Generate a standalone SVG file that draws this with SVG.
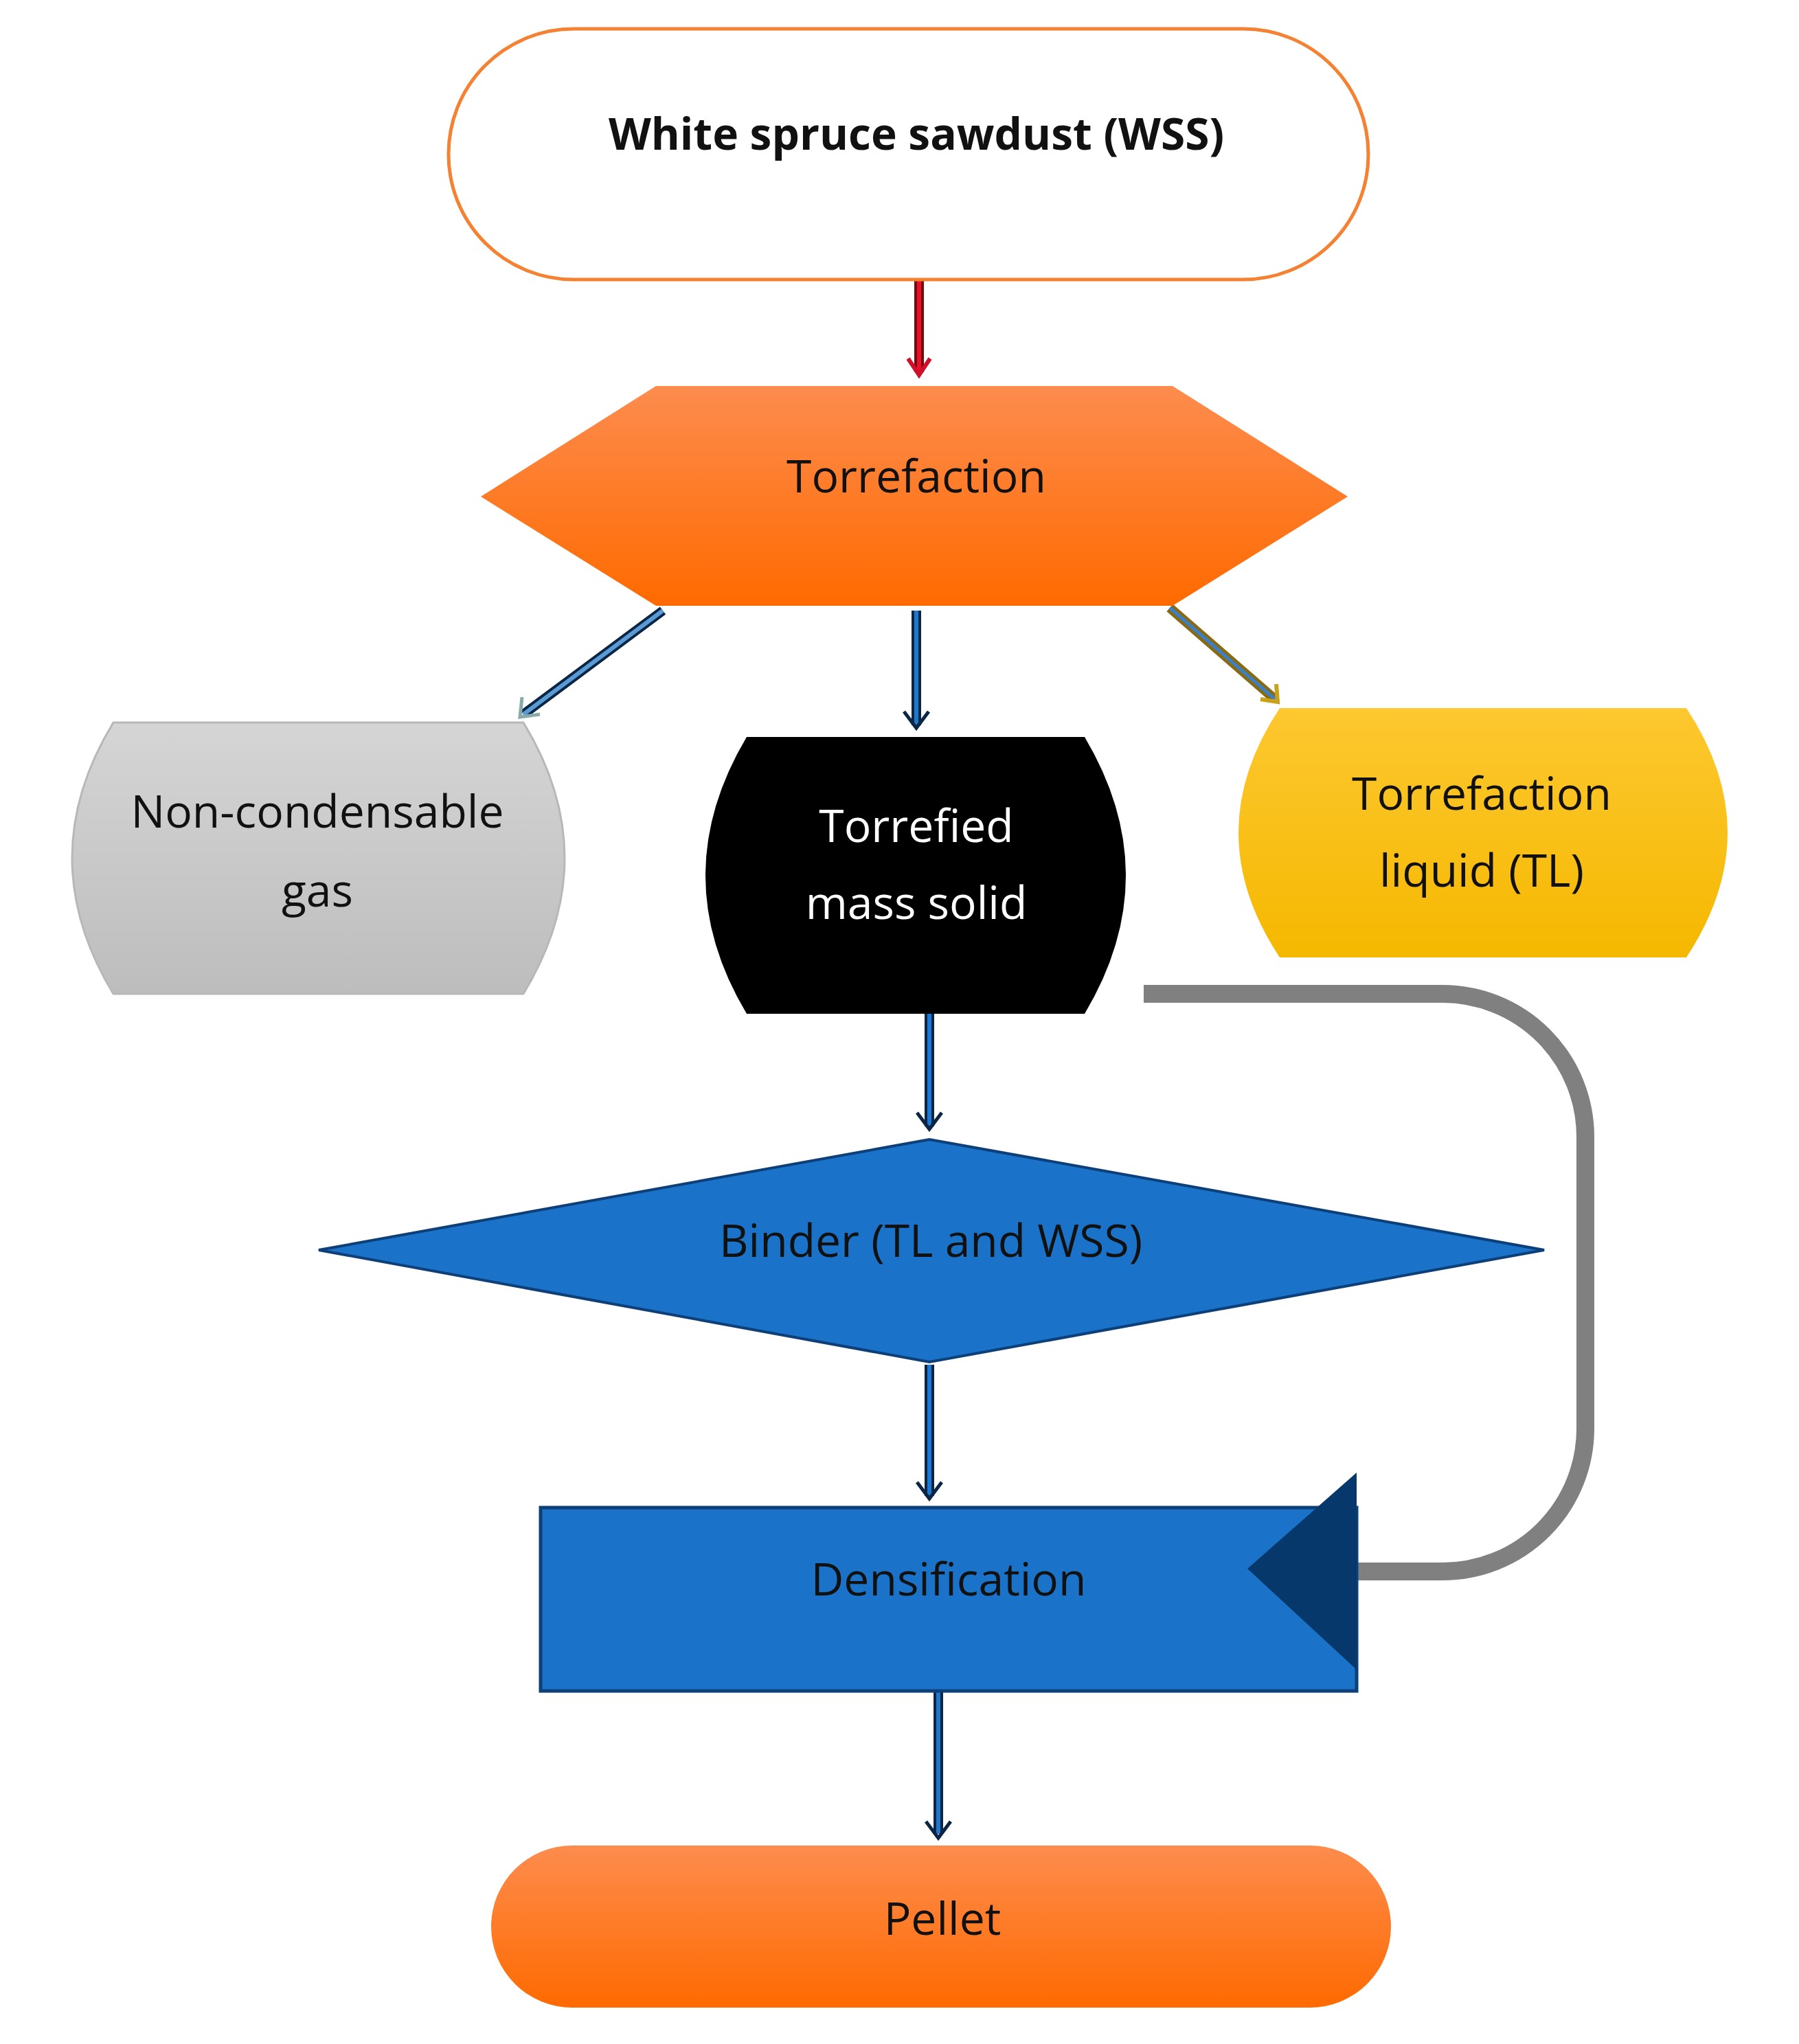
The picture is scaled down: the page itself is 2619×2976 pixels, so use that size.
<svg xmlns="http://www.w3.org/2000/svg" width="2619" height="2976" viewBox="0 0 2619 2976">
<defs>
<linearGradient id="org" x1="0" y1="0" x2="0" y2="1"><stop offset="0" stop-color="#fd8c4e"/><stop offset="1" stop-color="#ff6a00"/></linearGradient>
<linearGradient id="gry" x1="0" y1="0" x2="0" y2="1"><stop offset="0" stop-color="#d5d5d5"/><stop offset="1" stop-color="#bdbdbd"/></linearGradient>
<linearGradient id="yel" x1="0" y1="0" x2="0" y2="1"><stop offset="0" stop-color="#fdc830"/><stop offset="1" stop-color="#f5b800"/></linearGradient>
</defs>
<style>
text{font-family:"Open Sans","Liberation Sans",sans-serif;font-size:66px;text-anchor:middle;fill:#111}
.o{stroke:#0b2545;stroke-width:14;fill:none}
.i{stroke:#1f77d0;stroke-width:6;fill:none}
.h{stroke:#0b2545;stroke-width:5;fill:none}
</style>
<rect width="2619" height="2976" fill="#fff"/>
<g id="connectors">
<path d="M1665,1447 H2100 A208,208 0 0 1 2308,1655 V2080 A208,208 0 0 1 2100,2288 H1975" stroke="#808080" stroke-width="26" fill="none"/>
<path d="M1338,401 V542" stroke="#7a0a0a" stroke-width="14"/><path d="M1338,401 V542" stroke="#e8102a" stroke-width="6"/><path d="M1322,522 L1338,546 L1354,522" stroke="#d0102a" stroke-width="6" fill="none"/>
<path class="o" d="M965,889 L762,1040"/><path d="M965,889 L762,1040" stroke="#5b9bd5" stroke-width="6"/><path d="M760,1015 L757,1044 L786,1040" stroke="#8aa" stroke-width="5" fill="none"/>
<path class="o" d="M1334,889 V1056"/><path class="i" d="M1334,889 V1056"/><path class="h" d="M1316,1036 L1334,1060 L1352,1036"/>
<path d="M1703,885 L1856,1018" stroke="#8a6a10" stroke-width="14"/><path d="M1703,885 L1856,1018" stroke="#3b7fc4" stroke-width="5"/><path d="M1835,1018 L1860,1022 L1858,996" stroke="#c9a21a" stroke-width="6" fill="none"/>
<path class="o" d="M1353,1476 V1640"/><path class="i" d="M1353,1476 V1640"/><path class="h" d="M1335,1620 L1353,1644 L1371,1620"/>
<path class="o" d="M1353,1987 V2178"/><path class="i" d="M1353,1987 V2178"/><path class="h" d="M1335,2158 L1353,2182 L1371,2158"/>
<path class="o" d="M1366,2462 V2670"/><path class="i" d="M1366,2462 V2670"/><path class="h" d="M1348,2652 L1366,2676 L1384,2652"/>
</g>
<g id="wss"><rect x="653" y="42" width="1339" height="365" rx="182" fill="#fff" stroke="#f58233" stroke-width="5"/><text x="1334" y="218" font-weight="bold" style="font-size:64px">White spruce sawdust (WSS)</text></g>
<g id="torrefaction"><polygon points="700,723 955,562 1707,562 1962,723 1707,882 955,882" fill="url(#org)"/><text x="1334" y="717">Torrefaction</text></g>
<g id="gas"><path d="M165,1052 H762 Q882,1249 762,1447 H165 Q45,1249 165,1052 Z" fill="url(#gry)" stroke="#b8b8b8" stroke-width="3"/><text x="462" y="1205">Non-condensable</text><text x="462" y="1320">gas</text></g>
<g id="solid"><path d="M1087,1073 H1579 Q1699,1275 1579,1476 H1087 Q967,1275 1087,1073 Z" fill="#000"/><text x="1334" y="1226" style="fill:#fff">Torrefied</text><text x="1334" y="1338" style="fill:#fff">mass solid</text></g>
<g id="liquid"><path d="M1863,1031 H2455 Q2575,1212 2455,1394 H1863 Q1743,1212 1863,1031 Z" fill="url(#yel)"/><text x="2157" y="1179">Torrefaction</text><text x="2157" y="1291">liquid (TL)</text></g>
<g id="binder"><polygon points="464,1820 1353,1659 2248,1820 1353,1983" fill="#1a73c8" stroke="#0d3f78" stroke-width="4"/><text x="1355" y="1830">Binder (TL and WSS)</text></g>
<g id="densification"><rect x="787" y="2195" width="1188" height="267" fill="#1a73c8" stroke="#0d3f78" stroke-width="5"/><polygon points="1816,2284 1975,2144 1975,2431" fill="#07386b"/><text x="1381" y="2323">Densification</text></g>
<g id="pellet"><rect x="715" y="2687" width="1310" height="236" rx="118" fill="url(#org)"/><text x="1372" y="2817">Pellet</text></g>
</svg>
